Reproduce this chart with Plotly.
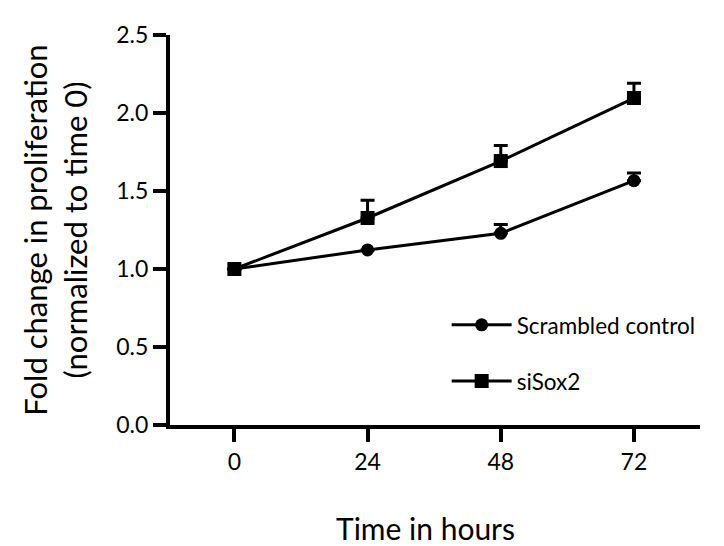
import plotly.graph_objects as go

hours = [0, 24, 48, 72]
tick_labels = ["0", "24", "48", "72"]
scrambled = [1.0, 1.122, 1.229, 1.566]
scrambled_err = [0.0, 0.0, 0.057, 0.05]
sisox2 = [1.0, 1.327, 1.692, 2.096]
sisox2_err = [0.0, 0.113, 0.10, 0.094]
y_ticks = [0.0, 0.5, 1.0, 1.5, 2.0, 2.5]
y_tick_labels = ["0.0", "0.5", "1.0", "1.5", "2.0", "2.5"]
x_title = "Time in hours"
y_title = "Fold change in proliferation<br>(normalized to time 0)"

FONT = "Lato"

fig = go.Figure()
fig.add_trace(go.Scatter(
    x=hours, y=scrambled, name="Scrambled control", legendgroup="a",
    mode="lines+markers",
    line=dict(color="black", width=3),
    marker=dict(symbol="circle", size=13, color="black"),
    error_y=dict(type="data", symmetric=False, array=scrambled_err,
                 arrayminus=[0] * len(hours), color="black", thickness=3, width=7),
))
fig.add_trace(go.Scatter(
    x=hours, y=sisox2, name="siSox2", legendgroup="b",
    mode="lines+markers",
    line=dict(color="black", width=3),
    marker=dict(symbol="square", size=14, color="black"),
    error_y=dict(type="data", symmetric=False, array=sisox2_err,
                 arrayminus=[0] * len(hours), color="black", thickness=3, width=7),
))

fig.add_annotation(
    text=x_title, xref="paper", yref="paper", x=0.482, y=-0.265,
    xanchor="center", yanchor="middle", showarrow=False,
    font=dict(size=30, family=FONT, color="black"),
)

fig.update_layout(
    width=724, height=546,
    margin=dict(l=162, r=32, t=20, b=129),
    paper_bgcolor="white", plot_bgcolor="white",
    font=dict(family=FONT, color="black", size=22.5),
    legend=dict(x=0.522, y=0.184, xanchor="left", yanchor="middle",
                font=dict(size=22.5, family=FONT), tracegroupgap=24,
                itemwidth=60, bgcolor="rgba(0,0,0,0)"),
    xaxis=dict(
        range=[-11.6, 83.9], tickmode="array", tickvals=hours, ticktext=tick_labels,
        showgrid=False, zeroline=False, showline=True, linecolor="black", linewidth=4,
        ticks="outside", ticklen=13, tickwidth=4, tickcolor="black",
        tickfont=dict(size=23, family=FONT),
    ),
    yaxis=dict(
        range=[0, 2.5], tickmode="array", tickvals=y_ticks, ticktext=y_tick_labels,
        showgrid=False, zeroline=False, showline=True, linecolor="black", linewidth=4,
        ticks="outside", ticklen=13, tickwidth=4, tickcolor="black",
        tickfont=dict(size=23, family=FONT),
        title=dict(text=y_title, font=dict(size=31, family=FONT), standoff=20),
    ),
)

fig.write_html("out.html")
